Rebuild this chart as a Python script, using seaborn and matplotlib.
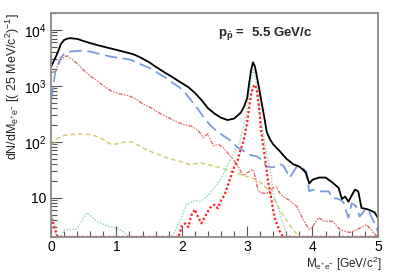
import matplotlib
matplotlib.use("Agg")
import matplotlib.pyplot as plt
import seaborn as sns
import numpy as np
from matplotlib.ticker import FixedLocator, LogLocator, NullFormatter, MultipleLocator

sns.set_style("ticks")
plt.rcParams['font.family'] = ['Liberation Sans', 'DejaVu Sans']
plt.rcParams['mathtext.fontset'] = 'custom'
plt.rcParams['mathtext.rm'] = 'Liberation Sans'
plt.rcParams['mathtext.it'] = 'Liberation Sans:italic'
plt.rcParams['mathtext.bf'] = 'Liberation Sans:bold'

# =-= Data (bin centres in GeV/c^2) =-= #

total_x = [0.0, 0.05, 0.1, 0.15, 0.2, 0.25, 0.3, 0.4, 0.5, 0.6, 0.75, 0.9, 1.0, 1.1, 1.25,
           1.35, 1.5, 1.6, 1.75, 1.85, 2.0, 2.1, 2.2, 2.3, 2.4, 2.5, 2.6, 2.7, 2.8, 2.9,
           2.95, 3.0, 3.03, 3.06, 3.09, 3.12, 3.15, 3.18, 3.21, 3.25, 3.3, 3.35, 3.4, 3.45,
           3.5, 3.55, 3.6, 3.65, 3.7, 3.8, 3.85, 3.9, 3.95, 4.0, 4.05, 4.1, 4.2, 4.3, 4.4,
           4.45, 4.5, 4.55, 4.6, 4.65, 4.7, 4.75, 4.85, 4.95, 5.0]
total_y = [2200, 2900, 3900, 5600, 6600, 7000, 7100, 6900, 6300, 5800, 5200, 4700, 4400, 4100, 3700,
           3300, 2650, 2200, 1700, 1450, 1120, 950, 750, 560, 400, 320, 270, 245, 260, 330,
           420, 600, 1100, 1900, 2650, 2200, 1450, 950, 600, 330, 150, 110, 90, 78,
           68, 58, 50, 45, 40, 36, 32, 28, 18, 21, 22, 23, 23, 19, 15,
           9.5, 10.5, 8.5, 11, 14, 13, 6.6, 6.2, 5.5, 4.4]

blue_x = [0.0, 0.03, 0.06, 0.1, 0.15, 0.2, 0.3, 0.45, 0.6, 0.75, 0.93, 1.1, 1.23, 1.35, 1.5,
          1.6, 1.75, 1.85, 1.95, 2.05, 2.15, 2.25, 2.35, 2.45, 2.55, 2.65, 2.75, 2.85, 2.95,
          3.05, 3.15, 3.2, 3.3, 3.4, 3.5, 3.55, 3.6, 3.65, 3.7, 3.75, 3.85, 3.9, 3.95, 4.0,
          4.1, 4.25, 4.3, 4.4, 4.47, 4.55, 4.6, 4.67, 4.72, 4.8, 4.85, 4.9, 4.95, 5.0]
blue_y = [560, 900, 1700, 2300, 3200, 3700, 4100, 4250, 4100, 3700, 3300, 3100, 2900, 2500, 2100,
          1800, 1400, 1150, 970, 750, 540, 380, 260, 190, 150, 125, 105, 80, 68,
          58, 55, 50, 36, 35, 40, 38, 30, 23, 28, 35, 34, 30, 13, 14,
          13, 13, 10, 9.5, 8.5, 4.4, 8, 7, 4.6, 6, 6.2, 4.6, 3.5, 2.5]

dashdot_x = [0.0, 0.05, 0.1, 0.15, 0.2, 0.25, 0.3, 0.4, 0.5, 0.6, 0.7, 0.8, 0.93, 1.05, 1.2,
             1.3, 1.4, 1.54, 1.65, 1.8, 1.95, 2.05, 2.15, 2.25, 2.33, 2.4, 2.48, 2.56, 2.64,
             2.72, 2.79, 2.85, 2.94, 3.0, 3.09, 3.13, 3.17, 3.25, 3.3, 3.4, 3.45, 3.5, 3.55,
             3.65, 3.76, 3.86, 3.95, 4.0, 4.09, 4.19, 4.31, 4.42, 4.57, 4.65, 4.73, 4.83, 4.93, 5.0]
dashdot_y = [1700, 1800, 2300, 2900, 3300, 3450, 3100, 2500, 1900, 1500, 1250, 1000, 800, 720, 660,
             580, 480, 400, 330, 270, 220, 200, 190, 160, 118, 140, 85, 90, 78,
             60, 48, 38, 25, 28, 32, 22, 13, 12, 12, 15, 16, 12, 10.5,
             9, 7, 4, 2.7, 3, 4.4, 3.8, 3.8, 2.7, 2.4, 2.6, 2.9, 3.3, 2.4, 0]

jpsi_x = [0.0, 0.05, 0.1, 1.95, 2.0, 2.05, 2.1, 2.15, 2.2, 2.25, 2.3, 2.35, 2.43, 2.5, 2.55,
          2.6, 2.65, 2.7, 2.75, 2.8, 2.85, 2.9, 2.95, 3.0, 3.03, 3.06, 3.09, 3.12, 3.15,
          3.18, 3.21, 3.25, 3.28, 3.32, 3.36, 3.42, 3.5, 3.55, 5.0]
jpsi_y = [4.4, 3.0, 0, 0, 3.1, 3.5, 3.0, 5.0, 6.2, 4.5, 3.5, 4.5, 6.6, 7.5, 6.5,
          9, 11, 16, 24, 35, 45, 72, 110, 220, 400, 700, 950, 1050, 800,
          450, 170, 80, 45, 20, 11, 4.4, 2.5, 0, 0]

teal_x = [0.0, 0.05, 0.08, 0.15, 0.2, 0.3, 0.4, 0.5, 0.55, 0.6, 0.7, 0.8, 0.9, 1.0, 1.1,
          1.2, 1.85, 1.9, 1.97, 2.07, 2.2, 2.28, 2.4, 2.48, 2.6, 2.69, 2.79, 2.87, 2.94,
          3.0, 3.04, 3.07, 3.1, 3.13, 3.16, 3.2, 3.25, 3.3, 3.35, 3.4, 3.45, 3.53, 3.6, 3.65, 5.0]
teal_y = [5.4, 3.5, 0, 2.0, 2.7, 2.7, 2.8, 4.5, 5.4, 4.8, 3.8, 3.4, 3.0, 2.9, 2.5,
          0, 0, 2.6, 3.8, 7.5, 9, 8.5, 11, 14, 22, 36, 63, 90, 170,
          400, 900, 1450, 1930, 1400, 800, 330, 125, 60, 35, 12, 8, 4, 2.3, 0, 0]

olive_x = [0.0, 0.05, 0.1, 0.2, 0.3, 0.4, 0.5, 0.6, 0.7, 0.8, 0.9, 0.95, 1.05, 1.15, 1.25,
           1.35, 1.46, 1.6, 1.75, 1.87, 2.0, 2.13, 2.28, 2.45, 2.6, 2.79, 2.95, 3.15, 3.25,
           3.35, 3.45, 3.5, 3.6, 3.7, 3.8, 5.0]
olive_y = [89, 95, 115, 130, 135, 137, 137, 135, 125, 110, 92, 89, 95, 100, 98,
           85, 72, 62, 53, 48, 44, 39, 42, 38, 34, 29, 25, 21, 17,
           12, 8, 6.1, 4, 2.7, 0, 0]

YMIN, YMAX = 2.0, 2.0e4

# =-= Plotting =-= #

fig = plt.figure(figsize=(3.99, 2.72), dpi=100)
ax = fig.add_axes([0.128, 0.129, 0.819, 0.823])

curves = [
    (olive_x, olive_y, "#d6cc72", (0, (3, 2)), 1.1),
    (teal_x, teal_y, "#9ad8c0", (0, (1, 1)), 1.1),
    (dashdot_x, dashdot_y, "#e06a6a", (0, (3, 1, 1, 1, 1, 1)), 1.0),
    (blue_x, blue_y, "#7a9ddc", (0, (7, 3)), 1.3),
    (jpsi_x, jpsi_y, "#ff2222", (0, (1, 1)), 1.6),
    (total_x, total_y, "black", "-", 1.3),
]
for cx, cy, col, ls, lw in curves:
    sns.lineplot(x=np.array(cx), y=np.clip(np.array(cy, dtype=float), YMIN, None),
                 color=col, linestyle=ls, linewidth=lw,
                 ax=ax, estimator=None, sort=False)

ax.set_yscale("log")
ax.set_xlim(0, 5)
ax.set_ylim(YMIN, YMAX)

ax.yaxis.set_major_locator(FixedLocator([10, 100, 1000, 10000]))
ax.set_yticklabels(["10", "$10^{2}$", "$10^{3}$", "$10^{4}$"])
ax.yaxis.set_minor_locator(LogLocator(base=10, subs=np.arange(2, 10)))
ax.yaxis.set_minor_formatter(NullFormatter())
ax.xaxis.set_major_locator(MultipleLocator(1))
ax.xaxis.set_minor_locator(MultipleLocator(0.2))

ax.tick_params(which="both", direction="in", colors="#555555", labelcolor="black",
               labelsize=10, top=False, right=False)
ax.tick_params(which="major", length=8, width=0.8)
ax.tick_params(which="minor", length=4, width=0.8)
ax.tick_params(axis="x", pad=2)

for sp in ax.spines.values():
    sp.set_color("#8a8a8a")
    sp.set_linewidth(1.3)

ax.set_xlabel(r"M$_{\mathregular{e^{+}e^{-}}}$ [GeV/c$^{2}$]", fontsize=8.5, ha="right")
ax.xaxis.set_label_coords(1.01, -0.078)
ax.set_ylabel(r"dN/dM$_{\mathregular{e^{+}e^{-}}}$ [( 25 MeV/c$^{2}$)$^{-1}$]", fontsize=9,
              ha="right")
ax.yaxis.set_label_coords(-0.088, 1.0)
ax.text(0.51, 0.895, r"p$_{\bar{\mathregular{p}}}$ =  5.5 GeV/c", transform=ax.transAxes,
        fontsize=9.5, fontweight="bold")

fig.savefig("out.png", dpi=100)
